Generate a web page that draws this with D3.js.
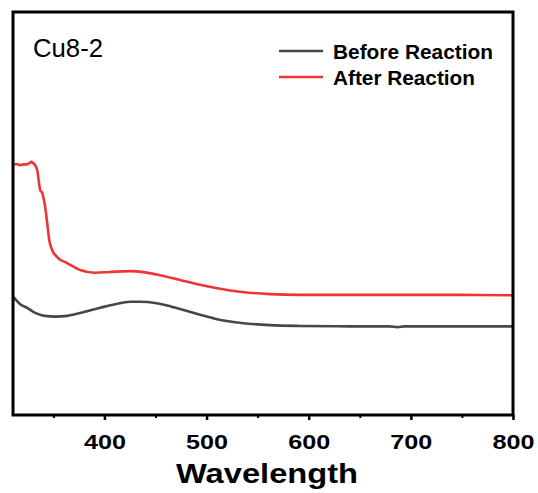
<!DOCTYPE html>
<html>
<head>
<meta charset="utf-8">
<script src="https://cdn.jsdelivr.net/npm/d3@7"></script>
<style>
  html, body { margin: 0; padding: 0; background: #fff; }
  svg { display: block; }
  text { font-family: "Liberation Sans", Arial, sans-serif; }
</style>
</head>
<body>
<svg id="chart" width="538" height="493"></svg>
<script>
// Wavelength (nm) and absorbance (arbitrary units)
const afterWavelength = [310, 314, 317.5, 321, 324.4, 326.5, 328.3, 330.3, 332.2, 334.2, 337.1, 339.1, 342, 344, 346, 348.9, 353.7, 363.5, 376.2, 390.9, 405.6, 425.1, 439.8, 454.5, 474, 493.6, 522.9, 562, 591.4, 650, 700, 750, 800];
const afterValues     = [0.620, 0.623, 0.620, 0.622, 0.622, 0.625, 0.628, 0.625, 0.620, 0.608, 0.558, 0.551, 0.516, 0.476, 0.434, 0.409, 0.392, 0.377, 0.360, 0.353, 0.355, 0.357, 0.354, 0.347, 0.335, 0.323, 0.309, 0.300, 0.298, 0.298, 0.298, 0.298, 0.297];

const beforeWavelength = [310.7, 313.6, 317.5, 324.4, 330.3, 337.1, 342, 351.8, 363.5, 376.2, 395.8, 410.5, 425.1, 434.9, 449.6, 459.4, 474, 493.6, 508.3, 522.9, 562, 591.4, 640, 679, 687, 694, 750, 800];
const beforeValues     = [0.293, 0.285, 0.275, 0.266, 0.256, 0.249, 0.246, 0.244, 0.246, 0.253, 0.266, 0.275, 0.281, 0.281, 0.278, 0.273, 0.263, 0.249, 0.239, 0.232, 0.223, 0.221, 0.220, 0.220, 0.218, 0.220, 0.220, 0.220];

const xTicks = [400, 500, 600, 700, 800];
const xMinorTicks = [350, 450, 550, 650, 750];
const seriesNames = ["Before Reaction", "After Reaction"];
const seriesColors = ["#474747", "#ee3535"];
const sampleLabel = "Cu8-2";
const xTitle = "Wavelength";

const svg = d3.select("#chart");
const mLeft = 13, mRight = 513, mTop = 12, mBottom = 415;

const x = d3.scaleLinear().domain([310.5, 800]).range([mLeft, mRight]);
const y = d3.scaleLinear().domain([0, 1]).range([mBottom, mTop]);

const line = d3.line().x(d => x(d[0])).y(d => y(d[1])).curve(d3.curveMonotoneX);

const plot = svg.append("g");
plot.append("clipPath").attr("id", "clip").append("rect")
  .attr("x", mLeft).attr("y", mTop).attr("width", mRight - mLeft).attr("height", mBottom - mTop);

const seriesData = [
  d3.zip(beforeWavelength, beforeValues),
  d3.zip(afterWavelength, afterValues)
];

seriesData.forEach((data, i) => {
  plot.append("path")
    .attr("d", line(data))
    .attr("fill", "none")
    .attr("stroke", seriesColors[i])
    .attr("stroke-width", 2.6)
    .attr("stroke-linejoin", "round")
    .attr("clip-path", "url(#clip)");
});

// x axis ticks (outward)
const xAxis = d3.axisBottom(x).tickValues(xTicks).tickSize(5).tickFormat(d3.format("d"));
const gx = svg.append("g").attr("transform", `translate(0,${mBottom})`).call(xAxis);
gx.select(".domain").remove();
gx.selectAll(".tick line").attr("stroke", "#000").attr("stroke-width", 2.5);
gx.selectAll(".tick text")
  .attr("y", 34).attr("dy", 0)
  .attr("font-size", 20).attr("font-weight", "bold").attr("fill", "#000")
  .attr("textLength", 42).attr("lengthAdjust", "spacingAndGlyphs")
  .style("font-family", "'Liberation Sans', Arial, sans-serif");

const xMinor = d3.axisBottom(x).tickValues(xMinorTicks).tickSize(3).tickFormat("");
const gm = svg.append("g").attr("transform", `translate(0,${mBottom})`).call(xMinor);
gm.select(".domain").remove();
gm.selectAll(".tick line").attr("stroke", "#000").attr("stroke-width", 2);

// frame
svg.append("rect")
  .attr("x", mLeft).attr("y", mTop).attr("width", mRight - mLeft).attr("height", mBottom - mTop)
  .attr("fill", "none").attr("stroke", "#000").attr("stroke-width", 3);

// axis title
svg.append("text")
  .attr("x", 267).attr("y", 483)
  .attr("text-anchor", "middle")
  .attr("font-size", 28).attr("font-weight", "bold")
  .attr("textLength", 182).attr("lengthAdjust", "spacingAndGlyphs")
  .text(xTitle);

// sample label
svg.append("text")
  .attr("x", 33).attr("y", 57)
  .attr("font-size", 25)
  .attr("textLength", 70).attr("lengthAdjust", "spacingAndGlyphs")
  .text(sampleLabel);

// legend
const legendY = [51, 77];
const legendTextLen = [160, 142];
seriesNames.forEach((name, i) => {
  svg.append("line")
    .attr("x1", 279).attr("x2", 323)
    .attr("y1", legendY[i]).attr("y2", legendY[i])
    .attr("stroke", seriesColors[i]).attr("stroke-width", 2.6);
  svg.append("text")
    .attr("x", 333).attr("y", legendY[i] + 8)
    .attr("font-size", 20.5).attr("font-weight", "bold")
    .attr("textLength", legendTextLen[i]).attr("lengthAdjust", "spacingAndGlyphs")
    .text(name);
});
</script>
</body>
</html>
